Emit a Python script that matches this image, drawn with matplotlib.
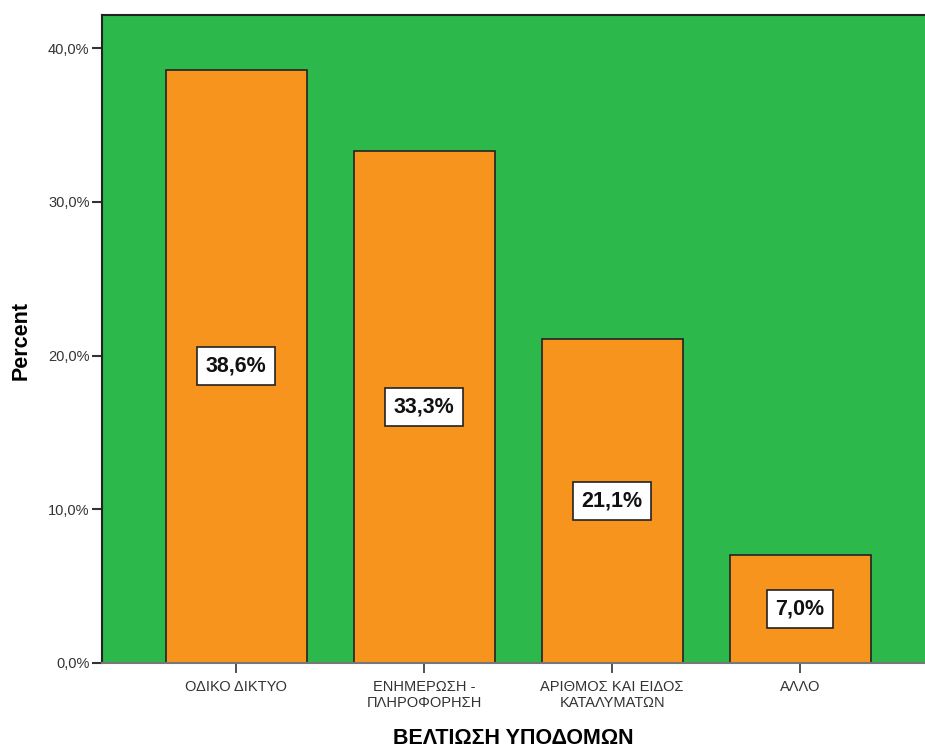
import matplotlib
matplotlib.use("Agg")
import matplotlib.pyplot as plt
from matplotlib.ticker import FuncFormatter

categories = ["ΟΔΙΚΟ ΔΙΚΤΥΟ", "ΕΝΗΜΕΡΩΣΗ -\nΠΛΗΡΟΦΟΡΗΣΗ", "ΑΡΙΘΜΟΣ ΚΑΙ ΕΙΔΟΣ\nΚΑΤΑΛΥΜΑΤΩΝ", "ΑΛΛΟ"]
values = [38.6, 33.3, 21.1, 7.0]
yticks = [0, 10, 20, 30, 40]

plt.rcParams['font.family'] = ['Liberation Sans', 'DejaVu Sans']

fig = plt.figure(figsize=(9.25, 7.52), dpi=100)
ax = fig.add_axes([102/925, 1-663/752, 1-102/925, (663-15)/752])
ax.set_facecolor('#2db84b')

x = list(range(len(categories)))
ax.bar(x, values, width=0.75, color='#f7941d', edgecolor='#222222', linewidth=1.2, zorder=2)

for xi, v in zip(x, values):
    ax.text(xi, v/2, f"{v:.1f}".replace('.', ',') + "%", ha='center', va='center',
            fontsize=15.5, fontweight='bold', color='#111111', zorder=3,
            bbox=dict(boxstyle='square,pad=0.4', facecolor='white', edgecolor='#222222', linewidth=1.2))

ax.set_xlim(-0.715, 3.665)
ax.set_ylim(0, 42.15)
ax.set_xticks(x)
ax.set_xticklabels(categories, fontsize=10.5, color='#333333', linespacing=1.25)
ax.set_yticks(yticks)
ax.yaxis.set_major_formatter(FuncFormatter(lambda v, p: f"{v:.1f}".replace('.', ',') + "%"))
ax.tick_params(axis='y', labelsize=10.5, colors='#333333', length=7, width=1.5, pad=2)
ax.tick_params(axis='x', length=7, width=1.2, colors='#333333', pad=5)

for s in ['top', 'left']:
    ax.spines[s].set_color('#222222')
    ax.spines[s].set_linewidth(1.5)
ax.spines['right'].set_visible(False)
ax.spines['bottom'].set_color('#777777')
ax.spines['bottom'].set_linewidth(1.5)

ax.set_ylabel("Percent", fontsize=15.5, fontweight='bold')
ax.yaxis.set_label_coords((32-102)/823, (663-340)/648)
ax.set_xlabel("ΒΕΛΤΙΩΣΗ ΥΠΟΔΟΜΩΝ", fontsize=15.5, fontweight='bold', labelpad=13)

fig.savefig("out.png", dpi=100)
